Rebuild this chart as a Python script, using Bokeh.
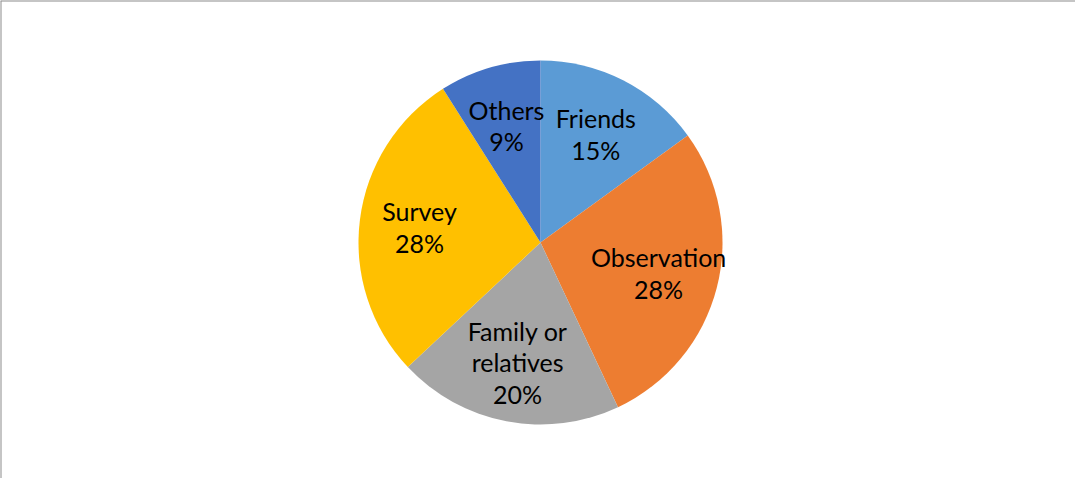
import math
from bokeh.plotting import figure
from bokeh.models import ColumnDataSource, Span
from bokeh.core.properties import value
from bokeh.embed import file_html
from bokeh.resources import INLINE

categories = ["Friends", "Observation", "Family or relatives", "Survey", "Others"]
label_text = ["Friends", "Observation", "Family or\nrelatives", "Survey", "Others"]
shares = [15, 28, 20, 28, 9]
colors = ["#5B9BD5", "#ED7D31", "#A5A5A5", "#FFC000", "#4472C4"]

W, H = 1075, 478
CX, CY, R = 540, 236, 182

total = sum(shares)
starts, ends, lx, ly, labels = [], [], [], [], []
cum = 0.0
for s, t in zip(shares, label_text):
    a0 = math.pi / 2 - 2 * math.pi * cum / total
    cum += s
    a1 = math.pi / 2 - 2 * math.pi * cum / total
    starts.append(a0)
    ends.append(a1)
    mid = (a0 + a1) / 2
    lx.append(CX + 0.67 * R * math.cos(mid))
    ly.append(CY + 0.67 * R * math.sin(mid))
    labels.append(f"{t}\n{round(100 * s / total)}%")

src = ColumnDataSource(dict(start=starts, end=ends, color=colors, cat=categories))
lab = ColumnDataSource(dict(x=lx, y=ly, text=labels))

p = figure(width=W, height=H, x_range=(0, W), y_range=(0, H),
           output_backend="svg", toolbar_location=None, min_border=0,
           outline_line_color=None, background_fill_color="white")
p.axis.visible = False
p.grid.visible = False

p.wedge(x=CX, y=CY, radius=R, start_angle="start", end_angle="end",
        direction="clock", fill_color="color", line_color=None, source=src)

p.text(x="x", y="y", text="text", source=lab, text_font=value("Lato"),
       text_font_size="25px", text_align="center", text_baseline="middle",
       text_color="#000000", text_line_height=1.05)

p.add_layout(Span(location=0, dimension="height", line_color="#8C8C8C", line_width=2))
p.add_layout(Span(location=H, dimension="width", line_color="#8C8C8C", line_width=2))

open("out.html", "w").write(file_html(p, INLINE))
